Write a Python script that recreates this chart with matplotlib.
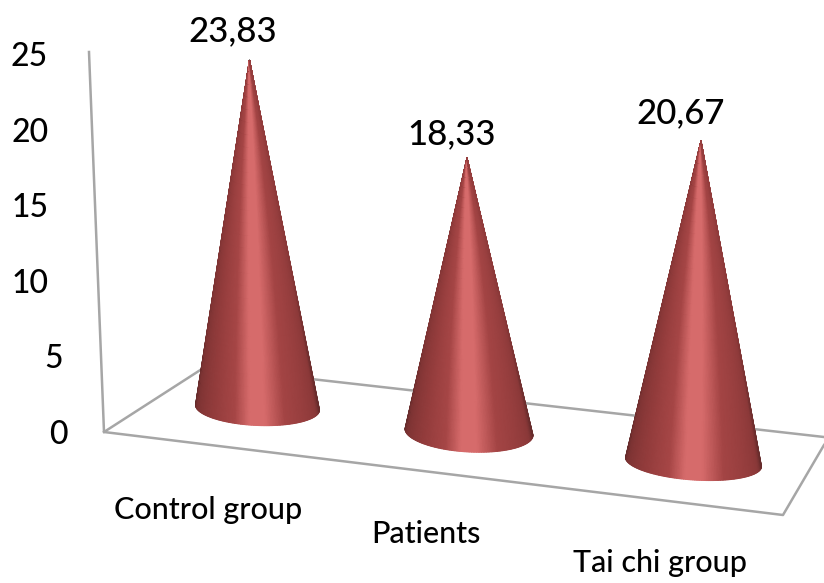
import numpy as np
import matplotlib
matplotlib.use('Agg')
import matplotlib.pyplot as plt
from matplotlib.colors import LinearSegmentedColormap

# chart values
categories = ['Control group', 'Patients', 'Tai chi group']
values = [23.83, 18.33, 20.67]
y_ticks = [0, 5, 10, 15, 20, 25]

plt.rcParams['font.family'] = ['Lato', 'DejaVu Sans']

# the chart is a hand built perspective view, so the axes run in pixels
W, H = 824, 583
fig = plt.figure(figsize=(W / 100, H / 100), dpi=100)
ax = fig.add_axes([0, 0, 1, 1])
ax.set_xlim(0, W)
ax.set_ylim(H, 0)
ax.axis('off')

# vertical scale of the back wall
wall_y0 = 435
wall_scale = 15.12
tick_x = [58, 54, 30, 30, 30, 29]

# cone placement: base centre, half width, tilt, lean of the tip, px per unit
base_x = [257.5, 469, 693.5]
base_y = [407.5, 432, 462]
half_w = [62, 64, 68]
half_h = [18, 20, 18]
tilt = [0.04, 0.05, 0.066]
lean = [-8, -2, 7.5]
depth_scale = [14.58, 14.95, 15.53]

label_pos = [(233, 31), (452, 134), (681, 113)]
cat_pos = [(208, 510), (426, 534), (660, 563)]

line_col = '#a6a6a6'

# floor and back wall lines
ax.plot([89, 104, 783, 824], [52, 432, 515, 445], color=line_col, lw=1.8, zorder=1)
ax.plot([104, 205, 824], [432, 367, 437], color=line_col, lw=1.8, zorder=1)

cone_cmap = LinearSegmentedColormap.from_list('cone', [
    (0.00, '#5f2929'), (0.08, '#7c3333'), (0.25, '#933c3c'), (0.38, '#a64646'),
    (0.46, '#d66b6b'), (0.54, '#d66b6b'), (0.65, '#a34444'), (0.90, '#8a3838'),
    (1.00, '#642b2b')])


def draw_cone(cx, cy, hw, hh, slope, dx, height):
    # fan mesh from the tip down to the front half of the base ellipse
    th = np.linspace(np.pi, 0, 120)
    rim_x = cx + hw * np.cos(th)
    rim_y = cy + hw * slope * np.cos(th) + hh * np.sin(th)
    s = np.linspace(0, 1, 30)[:, None]
    tip_x, tip_y = cx + dx, cy - height
    X = tip_x + s * (rim_x - tip_x)
    Y = tip_y + s * (rim_y - tip_y)
    # dark edges fade out towards the tip
    t = np.linspace(0, 1, 120)
    C = 0.5 + (t - 0.5) * (0.55 + 0.45 * s)
    ax.pcolormesh(X, Y, C, cmap=cone_cmap, vmin=0, vmax=1, shading='gouraud', zorder=2)


for i, v in enumerate(values):
    draw_cone(base_x[i], base_y[i], half_w[i], half_h[i], tilt[i], lean[i], v * depth_scale[i])
    ax.text(label_pos[i][0], label_pos[i][1], f'{v:.2f}'.replace('.', ','),
            fontsize=25, fontweight='medium', ha='center', va='center', color='black')
    ax.text(cat_pos[i][0], cat_pos[i][1], categories[i],
            fontsize=22, fontweight='medium', ha='center', va='center', color='black')

for t, x in zip(y_ticks, tick_x):
    ax.text(x, wall_y0 - t * wall_scale, str(t), fontsize=23, fontweight='medium',
            ha='center', va='center', color='black')

fig.savefig('out.png', dpi=100)
